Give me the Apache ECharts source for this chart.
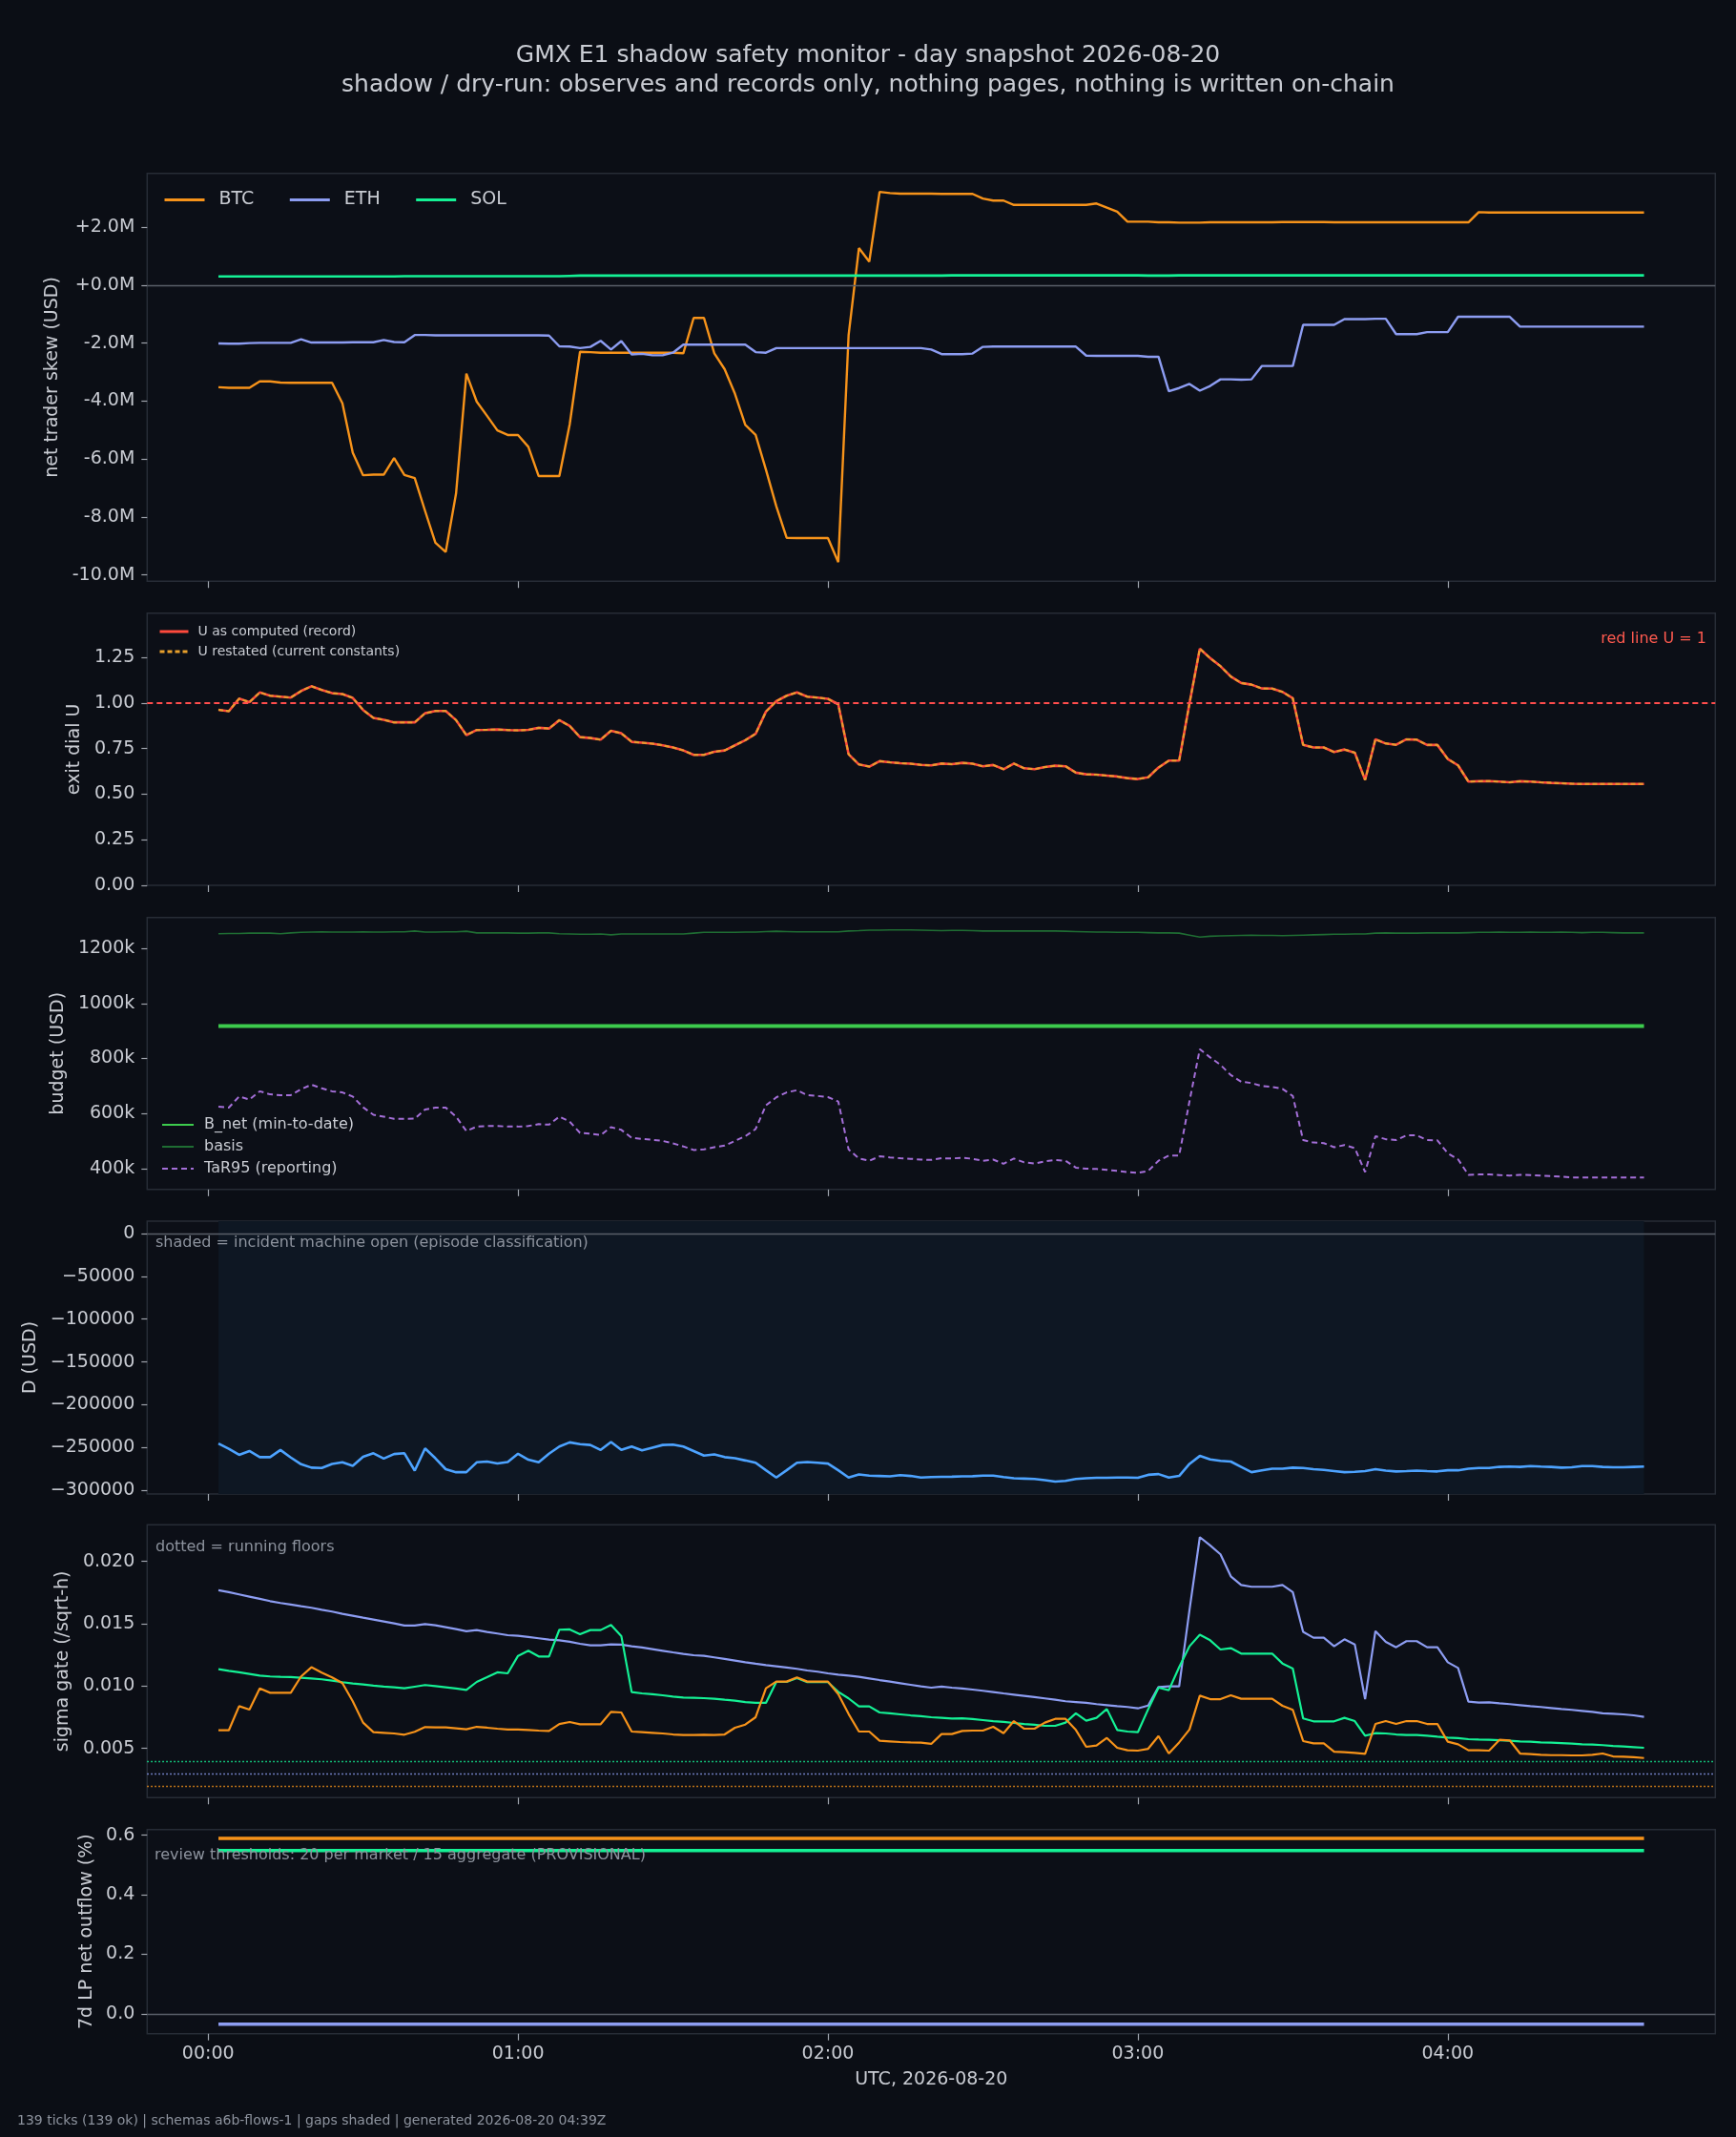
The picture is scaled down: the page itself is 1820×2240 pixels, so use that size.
<!DOCTYPE html>
<html>
<head>
<meta charset="utf-8">
<title>GMX E1 shadow safety monitor</title>
<script src="https://cdn.jsdelivr.net/npm/echarts@6/dist/echarts.min.js"></script>
<style>
html, body { margin: 0; padding: 0; background: #0b0e15; }
#chart { width: 1820px; height: 2240px; }
</style>
</head>
<body>
<div id="chart"></div>
<script>
// tick times, minutes after 00:00 UTC
var tickMinutes = [2,4,6,8,10,12,14,16,18,20,22,24,26,28,30,32,34,36,38,40,42,44,46,48,50,52,54,56,58,60,
  62,64,66,68,70,72,74,76,78,80,82,84,86,88,90,92,94,96,98,100,102,104,106,108,110,112,114,116,118,120,
  122,124,126,128,130,132,134,136,138,140,142,144,146,148,150,152,154,156,158,160,162,164,166,168,170,172,174,176,178,180,
  182,184,186,188,190,192,194,196,198,200,202,204,206,208,210,212,214,216,218,220,222,224,226,228,230,232,234,236,238,240,
  242,244,246,248,250,252,254,256,258,260,262,264,266,268,270,272,274,276,278];
var hourTicks = [0, 60, 120, 180, 240];

// net trader skew, USD millions
var skewBtc = [-3.52,-3.54,-3.54,-3.54,-3.32,-3.32,-3.36,-3.37,-3.37,-3.37,
  -3.37,-3.37,-4.08,-5.78,-6.56,-6.54,-6.54,-5.97,-6.55,-6.66,
  -7.79,-8.89,-9.21,-7.19,-3.05,-4.02,-4.51,-5.01,-5.17,-5.17,
  -5.58,-6.59,-6.59,-6.59,-4.81,-2.30,-2.31,-2.33,-2.33,-2.33,
  -2.33,-2.33,-2.33,-2.33,-2.33,-2.35,-1.13,-1.13,-2.35,-2.90,
  -3.75,-4.82,-5.17,-6.37,-7.63,-8.72,-8.73,-8.73,-8.73,-8.73,
  -9.56,-1.73,1.28,0.81,3.22,3.18,3.16,3.16,3.16,3.16,
  3.15,3.15,3.15,3.15,2.99,2.92,2.92,2.77,2.77,2.77,
  2.77,2.77,2.77,2.77,2.77,2.82,2.68,2.54,2.19,2.19,
  2.19,2.17,2.17,2.16,2.16,2.16,2.17,2.17,2.17,2.17,
  2.17,2.17,2.17,2.18,2.18,2.18,2.18,2.18,2.17,2.17,
  2.17,2.17,2.17,2.17,2.17,2.17,2.17,2.17,2.17,2.17,
  2.17,2.17,2.52,2.51,2.51,2.51,2.51,2.51,2.51,2.51,
  2.51,2.51,2.51,2.51,2.51,2.51,2.51,2.51,2.51];
var skewEth = [-2.01,-2.02,-2.02,-2.00,-1.99,-1.99,-1.99,-1.99,-1.87,-1.98,
  -1.98,-1.98,-1.98,-1.97,-1.97,-1.97,-1.89,-1.96,-1.97,-1.72,
  -1.72,-1.73,-1.73,-1.73,-1.73,-1.73,-1.73,-1.73,-1.73,-1.73,
  -1.73,-1.73,-1.74,-2.11,-2.12,-2.17,-2.13,-1.92,-2.22,-1.93,
  -2.39,-2.37,-2.42,-2.42,-2.33,-2.05,-2.05,-2.05,-2.05,-2.05,
  -2.05,-2.05,-2.31,-2.33,-2.17,-2.17,-2.17,-2.17,-2.17,-2.17,
  -2.17,-2.17,-2.17,-2.17,-2.17,-2.17,-2.17,-2.17,-2.17,-2.22,
  -2.38,-2.38,-2.38,-2.36,-2.13,-2.12,-2.12,-2.12,-2.12,-2.12,
  -2.12,-2.12,-2.12,-2.12,-2.43,-2.44,-2.44,-2.44,-2.44,-2.44,
  -2.47,-2.47,-3.66,-3.55,-3.41,-3.64,-3.48,-3.25,-3.25,-3.26,
  -3.25,-2.79,-2.79,-2.79,-2.79,-1.37,-1.37,-1.37,-1.37,-1.17,
  -1.17,-1.17,-1.16,-1.16,-1.69,-1.69,-1.69,-1.62,-1.62,-1.62,
  -1.09,-1.09,-1.09,-1.09,-1.09,-1.09,-1.43,-1.43,-1.43,-1.43,
  -1.43,-1.43,-1.43,-1.43,-1.43,-1.43,-1.43,-1.43,-1.43];
var skewSol = [0.30,0.30,0.30,0.30,0.30,0.30,0.30,0.30,0.30,0.30,
  0.30,0.30,0.30,0.30,0.30,0.30,0.30,0.30,0.31,0.31,
  0.31,0.31,0.31,0.31,0.31,0.31,0.31,0.31,0.31,0.31,
  0.31,0.31,0.31,0.31,0.32,0.33,0.33,0.33,0.33,0.33,
  0.33,0.33,0.33,0.33,0.33,0.33,0.33,0.33,0.33,0.33,
  0.33,0.33,0.33,0.33,0.33,0.33,0.33,0.33,0.33,0.33,
  0.33,0.33,0.33,0.33,0.33,0.33,0.33,0.33,0.33,0.33,
  0.33,0.34,0.34,0.34,0.34,0.34,0.34,0.34,0.34,0.34,
  0.34,0.34,0.34,0.34,0.34,0.34,0.34,0.34,0.34,0.34,
  0.33,0.33,0.33,0.34,0.34,0.34,0.34,0.34,0.34,0.34,
  0.34,0.34,0.34,0.34,0.34,0.34,0.34,0.34,0.34,0.34,
  0.34,0.34,0.34,0.34,0.34,0.34,0.34,0.34,0.34,0.34,
  0.34,0.34,0.34,0.34,0.34,0.34,0.34,0.34,0.34,0.34,
  0.34,0.34,0.34,0.34,0.34,0.34,0.34,0.34,0.34];

// exit dial U
var uRecord = [0.963,0.955,1.024,1.005,1.058,1.040,1.035,1.030,1.066,1.092,
  1.072,1.054,1.049,1.028,0.962,0.918,0.908,0.894,0.894,0.894,
  0.944,0.956,0.956,0.906,0.824,0.852,0.853,0.855,0.852,0.850,
  0.853,0.864,0.860,0.906,0.874,0.813,0.808,0.799,0.848,0.834,
  0.787,0.782,0.777,0.768,0.756,0.740,0.716,0.716,0.733,0.740,
  0.768,0.796,0.831,0.953,1.010,1.040,1.058,1.035,1.030,1.023,
  0.993,0.719,0.663,0.651,0.681,0.675,0.670,0.667,0.661,0.658,
  0.668,0.665,0.672,0.667,0.653,0.660,0.637,0.668,0.642,0.637,
  0.649,0.656,0.653,0.618,0.609,0.607,0.602,0.597,0.588,0.583,
  0.593,0.646,0.684,0.684,0.998,1.298,1.246,1.202,1.145,1.110,
  1.101,1.080,1.079,1.061,1.026,0.771,0.756,0.756,0.731,0.745,
  0.728,0.578,0.801,0.778,0.771,0.801,0.799,0.770,0.770,0.693,
  0.658,0.569,0.571,0.572,0.569,0.565,0.571,0.569,0.565,0.562,
  0.560,0.557,0.556,0.556,0.556,0.556,0.556,0.556,0.556];
var uRestated = uRecord; // restated values overlay the record exactly
var uRedLine = 1;

// budget, USD thousands
var bNetK = 918;
var basisK = [1253,1254,1254,1255,1255,1255,1253,1256,1258,1259,
  1260,1259,1259,1259,1260,1259,1259,1260,1260,1263,
  1259,1259,1260,1260,1262,1256,1256,1256,1256,1255,
  1255,1256,1256,1253,1252,1251,1251,1252,1249,1252,
  1252,1252,1252,1252,1252,1252,1255,1258,1258,1258,
  1258,1259,1259,1261,1262,1261,1260,1260,1260,1260,
  1260,1263,1264,1266,1266,1267,1267,1267,1266,1265,
  1264,1265,1265,1264,1263,1263,1263,1263,1263,1263,
  1263,1263,1262,1261,1260,1259,1259,1258,1258,1258,
  1257,1256,1256,1255,1248,1241,1244,1245,1246,1247,
  1248,1247,1247,1246,1247,1248,1249,1250,1251,1251,
  1252,1252,1255,1256,1255,1255,1255,1256,1256,1256,
  1256,1257,1258,1258,1259,1258,1258,1259,1258,1258,
  1259,1258,1257,1258,1258,1257,1256,1256,1256];
var tar95K = [625,622,662,651,681,670,667,667,689,705,
  692,681,677,662,623,596,589,581,581,582,
  615,622,622,589,537,553,555,555,553,553,
  555,562,560,589,571,530,527,522,551,541,
  512,508,505,501,492,481,468,470,478,484,
  501,518,544,630,659,677,685,667,664,660,
  644,470,437,429,445,441,438,436,433,432,
  438,437,440,436,429,433,418,437,423,419,
  427,432,429,404,400,399,396,392,388,385,
  392,429,448,448,645,834,804,777,740,716,
  711,700,697,690,664,504,495,493,478,486,
  475,388,518,507,504,521,521,504,503,456,
  434,378,379,379,377,375,378,377,375,373,
  371,368,368,368,368,368,368,368,368];

// D, USD thousands
var drawK = [-245.4,-251.5,-258.6,-254.2,-261.3,-261.3,-252.9,-261.7,-269.6,-273.6,
  -274.0,-269.2,-267.4,-271.4,-260.8,-256.8,-263.0,-257.7,-256.8,-277.1,
  -251.1,-262.6,-275.4,-278.9,-278.9,-267.4,-266.5,-268.8,-267.0,-257.3,
  -264.3,-267.4,-257.3,-248.9,-244.0,-246.2,-247.1,-252.9,-243.6,-252.9,
  -248.9,-253.3,-250.2,-247.1,-246.7,-248.9,-254.2,-259.5,-258.2,-261.3,
  -262.6,-265.2,-267.9,-276.7,-285.1,-276.7,-267.9,-267.0,-267.9,-268.8,
  -276.7,-285.1,-281.6,-282.9,-283.3,-283.8,-282.4,-283.3,-285.1,-284.6,
  -284.4,-284.2,-283.8,-283.6,-282.9,-282.9,-284.6,-286.0,-286.4,-286.9,
  -288.2,-289.9,-289.1,-286.9,-286.0,-285.5,-285.5,-285.1,-285.1,-285.5,
  -282.0,-281.1,-285.1,-283.3,-269.2,-259.9,-263.9,-265.7,-266.5,-272.7,
  -278.9,-276.7,-274.9,-274.9,-273.6,-274.0,-275.4,-276.3,-277.6,-278.9,
  -278.5,-277.6,-275.4,-277.1,-278.0,-277.6,-277.1,-277.6,-278.0,-276.7,
  -276.7,-274.9,-274.0,-274.0,-272.7,-272.3,-272.7,-271.8,-272.3,-272.7,
  -273.6,-273.2,-271.8,-271.8,-272.7,-273.2,-273.2,-272.7,-272.3];
var incidentOpen = [2, 278];

// sigma gate (/sqrt-h)
var sigmaBtc = [0.00645,0.00645,0.00839,0.00811,0.00982,0.00946,0.00946,0.00946,0.01077,0.01151,
  0.01107,0.01069,0.01023,0.00878,0.00707,0.00630,0.00625,0.00620,0.00610,0.00633,
  0.00671,0.00668,0.00668,0.00661,0.00653,0.00673,0.00666,0.00658,0.00651,0.00651,
  0.00648,0.00643,0.00640,0.00696,0.00712,0.00694,0.00694,0.00694,0.00793,0.00788,
  0.00635,0.00630,0.00625,0.00620,0.00612,0.00607,0.00607,0.00610,0.00607,0.00612,
  0.00666,0.00691,0.00750,0.00982,0.01036,0.01036,0.01069,0.01036,0.01036,0.01036,
  0.00936,0.00776,0.00635,0.00635,0.00561,0.00556,0.00551,0.00548,0.00546,0.00536,
  0.00615,0.00615,0.00640,0.00643,0.00643,0.00673,0.00622,0.00719,0.00658,0.00658,
  0.00707,0.00737,0.00737,0.00648,0.00513,0.00523,0.00584,0.00505,0.00485,0.00482,
  0.00497,0.00599,0.00459,0.00548,0.00651,0.00923,0.00895,0.00895,0.00926,0.00898,
  0.00898,0.00898,0.00898,0.00842,0.00809,0.00559,0.00541,0.00541,0.00474,0.00469,
  0.00464,0.00457,0.00696,0.00719,0.00696,0.00719,0.00719,0.00696,0.00696,0.00554,
  0.00533,0.00485,0.00485,0.00482,0.00569,0.00564,0.00459,0.00454,0.00449,0.00446,
  0.00446,0.00444,0.00444,0.00449,0.00459,0.00436,0.00434,0.00429,0.00423];
var sigmaEth = [0.01768,0.01753,0.01735,0.01717,0.01699,0.01681,0.01666,0.01653,0.01640,0.01628,
  0.01612,0.01597,0.01579,0.01564,0.01548,0.01533,0.01518,0.01503,0.01485,0.01485,
  0.01497,0.01487,0.01472,0.01457,0.01439,0.01449,0.01434,0.01421,0.01408,0.01403,
  0.01393,0.01383,0.01372,0.01367,0.01355,0.01339,0.01327,0.01327,0.01334,0.01332,
  0.01319,0.01309,0.01296,0.01283,0.01270,0.01258,0.01247,0.01242,0.01230,0.01217,
  0.01204,0.01191,0.01179,0.01168,0.01158,0.01148,0.01138,0.01125,0.01115,0.01102,
  0.01092,0.01084,0.01074,0.01061,0.01048,0.01036,0.01023,0.01010,0.00997,0.00987,
  0.00995,0.00987,0.00980,0.00972,0.00962,0.00952,0.00941,0.00931,0.00921,0.00911,
  0.00901,0.00890,0.00878,0.00872,0.00865,0.00855,0.00847,0.00839,0.00832,0.00821,
  0.00844,0.00992,0.00997,0.00997,0.01610,0.02194,0.02128,0.02056,0.01880,0.01811,
  0.01796,0.01796,0.01796,0.01811,0.01753,0.01434,0.01388,0.01388,0.01319,0.01375,
  0.01334,0.00895,0.01441,0.01355,0.01311,0.01360,0.01360,0.01311,0.01311,0.01191,
  0.01145,0.00875,0.00867,0.00870,0.00862,0.00855,0.00847,0.00839,0.00832,0.00824,
  0.00816,0.00809,0.00801,0.00793,0.00781,0.00778,0.00773,0.00765,0.00753];
var sigmaSol = [0.01135,0.01122,0.01110,0.01097,0.01084,0.01077,0.01074,0.01072,0.01067,0.01061,
  0.01054,0.01043,0.01031,0.01020,0.01013,0.01003,0.00995,0.00990,0.00982,0.00995,
  0.01008,0.01000,0.00990,0.00980,0.00969,0.01033,0.01071,0.01110,0.01102,0.01242,
  0.01283,0.01237,0.01237,0.01452,0.01454,0.01416,0.01449,0.01449,0.01490,0.01401,
  0.00952,0.00941,0.00934,0.00926,0.00916,0.00908,0.00906,0.00903,0.00898,0.00890,
  0.00883,0.00872,0.00865,0.00865,0.01033,0.01033,0.01064,0.01031,0.01031,0.01031,
  0.00954,0.00901,0.00837,0.00837,0.00788,0.00781,0.00773,0.00765,0.00758,0.00750,
  0.00745,0.00740,0.00742,0.00735,0.00727,0.00719,0.00712,0.00704,0.00696,0.00689,
  0.00681,0.00681,0.00707,0.00781,0.00722,0.00745,0.00816,0.00648,0.00635,0.00630,
  0.00814,0.00987,0.00967,0.01151,0.01319,0.01411,0.01367,0.01293,0.01304,0.01260,
  0.01260,0.01260,0.01260,0.01181,0.01140,0.00740,0.00717,0.00717,0.00717,0.00745,
  0.00719,0.00602,0.00622,0.00620,0.00612,0.00607,0.00607,0.00602,0.00594,0.00587,
  0.00582,0.00574,0.00571,0.00569,0.00566,0.00561,0.00556,0.00554,0.00548,0.00546,
  0.00543,0.00538,0.00533,0.00531,0.00526,0.00520,0.00515,0.00510,0.00505];
var floorBtc = 0.0020;
var floorEth = 0.00298;
var floorSol = 0.00397;

// 7d LP net outflow (%)
var lpBtc = 0.589;
var lpSol = 0.548;
var lpEth = -0.035;

var FONT = 'DejaVu Sans';
var TEXT = '#c9ccd3';
var MUTED = '#8d939e';
var BTC = '#f7931a', ETH = '#8d9df2', SOL = '#14f195';
var TICK_SIZE = 19;

function pairs(values) {
  return values.map(function (v, i) { return [tickMinutes[i], v]; });
}
function flat(value) {
  return [[tickMinutes[0], value], [tickMinutes[tickMinutes.length - 1], value]];
}
function hhmm(v) {
  var h = Math.floor(v / 60), m = v % 60;
  return (h < 10 ? '0' : '') + h + ':' + (m < 10 ? '0' : '') + m;
}
function hline(value, color, width, type) {
  // precision must be high or small values (sigma floors) get rounded to 0
  return {
    silent: true, precision: 8, symbol: ['none', 'none'], label: { show: false },
    lineStyle: { color: color, width: width, type: type, opacity: 1 },
    emphasis: { disabled: true },
    data: [{ yAxis: value }], animation: false
  };
}

var panels = [
  { top: 181.7, height: 427.6, min: -10.22, max: 3.86, ticks: [-10, -8, -6, -4, -2, 0, 2],
    fmt: function (v) { return (v >= 0 ? '+' : '-') + Math.abs(v).toFixed(1) + 'M'; },
    name: 'net trader skew (USD)', gap: 87 },
  { top: 642.7, height: 285.3, min: 0, max: 1.493, ticks: [0, 0.25, 0.5, 0.75, 1, 1.25],
    fmt: function (v) { return v.toFixed(2); }, name: 'exit dial U', gap: 67 },
  { top: 961.7, height: 285.1, min: 324.7, max: 1312, ticks: [400, 600, 800, 1000, 1200],
    fmt: function (v) { return v + 'k'; }, name: 'budget (USD)', gap: 82 },
  { top: 1280, height: 286, min: -304.4, max: 14.6, ticks: [-300, -250, -200, -150, -100, -50, 0],
    fmt: function (v) { return v === 0 ? '0' : '\u2212' + Math.abs(v * 1000); }, name: 'D (USD)', gap: 108 },
  { top: 1598.3, height: 286, min: 0.00105, max: 0.02293, ticks: [0.005, 0.010, 0.015, 0.020],
    fmt: function (v) { return v.toFixed(3); }, name: 'sigma gate (/sqrt-h)', gap: 75 },
  { top: 1917.7, height: 214, min: -0.067, max: 0.619, ticks: [0, 0.2, 0.4, 0.6],
    fmt: function (v) { return v.toFixed(1); }, name: '7d LP net outflow (%)', gap: 54 }
];

var grids = [], xAxes = [], yAxes = [];
panels.forEach(function (p, i) {
  var last = i === panels.length - 1;
  grids.push({ left: 154.3, width: 1644, top: p.top, height: p.height, show: true,
    borderColor: '#272c36', borderWidth: 1.5, backgroundColor: '#0c0f17' });
  xAxes.push({
    gridIndex: i, type: 'value', min: -11.8, max: 291.8, position: 'bottom',
    axisLine: { show: false, onZero: false }, splitLine: { show: false },
    axisTick: { show: true, customValues: hourTicks, length: 7, lineStyle: { color: '#a0a5ae', width: 1.2 } },
    axisLabel: { show: last, customValues: hourTicks, formatter: hhmm, color: TEXT, fontSize: TICK_SIZE, fontFamily: FONT, margin: 12 },
    name: last ? 'UTC, 2026-08-20' : '', nameLocation: 'middle', nameGap: 39,
    nameTextStyle: { color: TEXT, fontSize: TICK_SIZE, fontFamily: FONT }
  });
  yAxes.push({
    gridIndex: i, type: 'value', min: p.min, max: p.max, position: 'left',
    axisLine: { show: false, onZero: false }, splitLine: { show: false },
    axisTick: { show: true, customValues: p.ticks, length: 6, lineStyle: { color: '#a0a5ae', width: 1.2 } },
    axisLabel: { customValues: p.ticks, formatter: p.fmt, color: TEXT, fontSize: TICK_SIZE, fontFamily: FONT, margin: 13 },
    name: p.name, nameLocation: 'middle', nameGap: p.gap,
    nameTextStyle: { color: TEXT, fontSize: TICK_SIZE, fontFamily: FONT }
  });
});

function line(name, panel, data, color, width, extra) {
  var s = { name: name, type: 'line', xAxisIndex: panel, yAxisIndex: panel, data: data,
    symbol: 'none', animation: false, lineStyle: { color: color, width: width }, itemStyle: { color: color } };
  for (var k in extra) { s[k] = extra[k]; }
  return s;
}

var series = [
  line('BTC', 0, pairs(skewBtc), BTC, 2.4, { markLine: hline(0, '#5a5f69', 1.3, 'solid') }),
  line('ETH', 0, pairs(skewEth), ETH, 2.4),
  line('SOL', 0, pairs(skewSol), SOL, 2.6),

  line('U as computed (record)', 1, pairs(uRecord), '#ff4a3d', 2.6,
    { markLine: hline(uRedLine, '#ff4d4d', 2, [6, 4]) }),
  line('U restated (current constants)', 1, pairs(uRestated), '#e8a02c', 2,
    { lineStyle: { color: '#e8a02c', width: 2, type: [5, 3] } }),

  line('B_net (min-to-date)', 2, flat(bNetK), '#3dcb4d', 4),
  line('basis', 2, pairs(basisK), '#1f6d33', 1.6),
  line('TaR95 (reporting)', 2, pairs(tar95K), '#a46fd8', 2,
    { lineStyle: { color: '#a46fd8', width: 2, type: [6, 4] } }),

  line('D', 3, pairs(drawK), '#4da3ff', 2.6, {
    markLine: hline(0, '#5a5f69', 1.3, 'solid'),
    markArea: { silent: true, animation: false, itemStyle: { color: '#0e1723', opacity: 1 },
      data: [[{ xAxis: incidentOpen[0] }, { xAxis: incidentOpen[1] }]] }
  }),

  line('sigma ETH', 4, pairs(sigmaEth), ETH, 2.2, { markLine: hline(floorEth, ETH, 1.3, [1.5, 2.5]) }),
  line('sigma SOL', 4, pairs(sigmaSol), SOL, 2.2, { markLine: hline(floorSol, SOL, 1.3, [1.5, 2.5]) }),
  line('sigma BTC', 4, pairs(sigmaBtc), BTC, 2.2, { markLine: hline(floorBtc, BTC, 1.3, [1.5, 2.5]) }),

  line('LP BTC', 5, flat(lpBtc), BTC, 3.5, { markLine: hline(0, '#5a5f69', 1.3, 'solid') }),
  line('LP SOL', 5, flat(lpSol), SOL, 3.5),
  line('LP ETH', 5, flat(lpEth), ETH, 3.5)
];

// legend keys: line only, no marker
var keyStyle = { opacity: 0, borderWidth: 0 };
var legends = [
  { data: ['BTC', 'ETH', 'SOL'], left: 171, top: 200, orient: 'horizontal', padding: 0,
    itemWidth: 42, itemHeight: 14, itemGap: 36, selectedMode: false, itemStyle: keyStyle,
    lineStyle: { width: 3 },
    textStyle: { color: TEXT, fontSize: TICK_SIZE, fontFamily: FONT, padding: [0, 0, 0, 10] } },
  { data: ['U as computed (record)', 'U restated (current constants)'], left: 166, top: 655,
    orient: 'vertical', padding: 0, itemWidth: 30, itemHeight: 12, itemGap: 7, selectedMode: false,
    itemStyle: keyStyle, lineStyle: { width: 3 },
    textStyle: { color: TEXT, fontSize: 14, fontFamily: FONT, padding: [0, 0, 0, 5] } },
  { data: ['B_net (min-to-date)', 'basis', 'TaR95 (reporting)'], left: 169, top: 1171,
    orient: 'vertical', padding: 0, itemWidth: 33, itemHeight: 12, itemGap: 7, selectedMode: false,
    itemStyle: keyStyle,
    textStyle: { color: TEXT, fontSize: 16, fontFamily: FONT, padding: [0, 0, 0, 6] } }
];

function label(text, x, y, color, size, align) {
  return { type: 'text', silent: true, z: 100,
    style: { text: text, x: x, y: y, fill: color, font: size + 'px "' + FONT + '"',
      align: align || 'left', textAlign: align || 'left', verticalAlign: 'middle', textVerticalAlign: 'middle' } };
}

var graphics = [
  label('GMX E1 shadow safety monitor - day snapshot 2026-08-20', 910, 58, TEXT, 25, 'center'),
  label('shadow / dry-run: observes and records only, nothing pages, nothing is written on-chain', 910, 89, TEXT, 25, 'center'),
  label('red line U = 1', 1789, 670, '#ff5a4f', 16, 'right'),
  label('shaded = incident machine open (episode classification)', 163, 1303, MUTED, 16),
  label('dotted = running floors', 163, 1622, MUTED, 16),
  label('review thresholds: 20 per market / 15 aggregate (PROVISIONAL)', 162, 1945, MUTED, 16),
  label('139 ticks (139 ok) | schemas a6b-flows-1 | gaps shaded | generated 2026-08-20 04:39Z', 18, 2223, MUTED, 14)
];

var chart = echarts.init(document.getElementById('chart'));
chart.setOption({
  backgroundColor: '#0b0e15',
  animation: false,
  textStyle: { fontFamily: FONT },
  grid: grids,
  xAxis: xAxes,
  yAxis: yAxes,
  legend: legends,
  graphic: graphics,
  series: series
});
</script>
</body>
</html>
